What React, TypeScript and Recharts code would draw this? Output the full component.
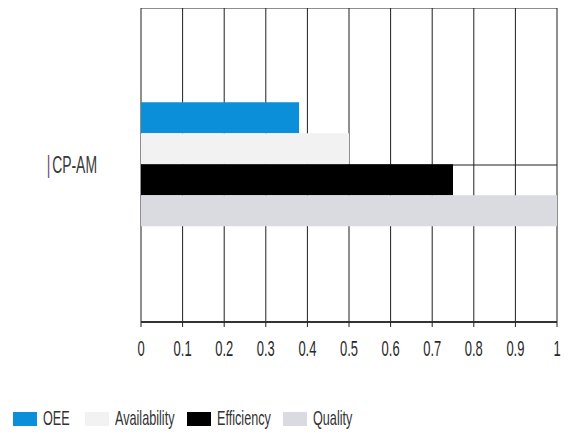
import React from "react";
import { BarChart, Bar, XAxis, YAxis, CartesianGrid, Legend } from "recharts";

const categories = ["CP-AM"];
const oee = [0.38];
const availability = [0.5];
const efficiency = [0.75];
const quality = [1.0];
const xTicks = [0, 0.1, 0.2, 0.3, 0.4, 0.5, 0.6, 0.7, 0.8, 0.9, 1];
const seriesNames = ["OEE", "Availability", "Efficiency", "Quality"];
const seriesColors = ["#0a8fd8", "#f2f2f2", "#000000", "#d9dbe0"];

const data = categories.map((c, i) => ({
  name: c,
  OEE: oee[i],
  Availability: availability[i],
  Efficiency: efficiency[i],
  Quality: quality[i],
}));

const FONT = "'Liberation Sans', Arial, sans-serif";

const XTick = (props: any) => {
  const { x, y, payload } = props;
  return (
    <g transform={`translate(${x},${y + 29}) scale(0.81,1.39)`}>
      <text x={0} y={0} textAnchor="middle" fontFamily={FONT} fontSize={16} fill="#2a2a2a">
        {String(payload.value)}
      </text>
    </g>
  );
};

const YTick = (props: any) => {
  const { x, y, payload } = props;
  return (
    <g transform={`translate(${x - 36},${y + 8}) scale(0.82,1.39)`}>
      <text x={0} y={0} textAnchor="end" fontFamily={FONT} fontSize={17} fill="#3a3a3a">
        <tspan fill="#7b3f73">|</tspan>
        <tspan dx={2}>{payload.value}</tspan>
      </text>
    </g>
  );
};

const itemWidths = [72, 102, 96, 90];

const LegendContent = () => (
  <div style={{ display: "flex", alignItems: "center", height: 24, paddingLeft: 5, fontFamily: FONT }}>
    {seriesNames.map((n, i) => (
      <div key={n} style={{ display: "flex", alignItems: "center", width: itemWidths[i] }}>
        <div style={{ width: 24, height: 14, background: seriesColors[i], marginRight: 6, flex: "none" }} />
        <span
          style={{
            display: "inline-block",
            fontSize: 16,
            lineHeight: "16px",
            color: "#333",
            transform: "scale(0.79,1.22)",
            transformOrigin: "left center",
            whiteSpace: "nowrap",
          }}
        >
          {n}
        </span>
      </div>
    ))}
  </div>
);

export default function App() {
  return (
    <BarChart
      width={554}
      height={428}
      data={data}
      layout="vertical"
      margin={{ top: 0, right: 5, left: 0, bottom: 5 }}
      barCategoryGap="30%"
      barGap={0}
    >
      <CartesianGrid stroke="#1e1e1e" strokeWidth={1} verticalValues={xTicks} />
      <XAxis
        xAxisId="top"
        type="number"
        orientation="top"
        domain={[0, 1]}
        height={0}
        tick={false}
        tickLine={false}
        axisLine={{ stroke: "#333", strokeWidth: 3 }}
      />
      <XAxis
        type="number"
        domain={[0, 1]}
        ticks={xTicks}
        interval={0}
        height={85}
        tickSize={5}
        tickMargin={0}
        tick={<XTick />}
        tickLine={{ stroke: "#222" }}
        axisLine={{ stroke: "#333", strokeWidth: 2 }}
      />
      <YAxis type="category" dataKey="name" width={133} axisLine={false} tickLine={false} tick={<YTick />} />
      <Legend verticalAlign="bottom" align="left" content={<LegendContent />} />
      {seriesNames.map((n, i) => (
        <Bar key={n} dataKey={n} fill={seriesColors[i]} isAnimationActive={false} />
      ))}
    </BarChart>
  );
}
